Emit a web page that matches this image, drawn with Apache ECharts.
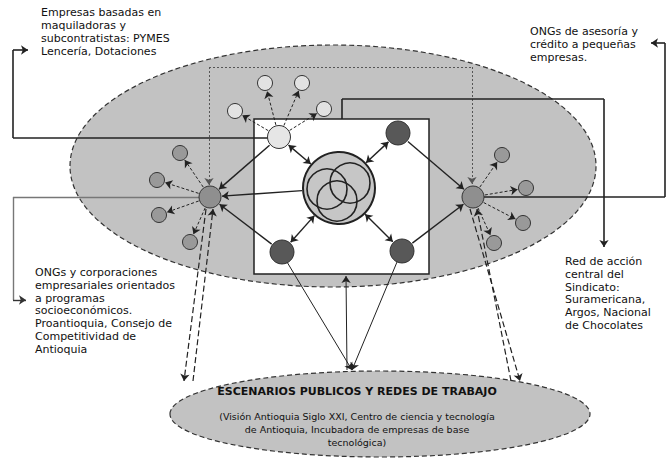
<!DOCTYPE html>
<html>
<head>
<meta charset="utf-8">
<title>Escenarios publicos y redes de trabajo</title>
<script src="https://cdn.jsdelivr.net/npm/echarts@6/dist/echarts.min.js"></script>
<style>
  html, body { margin: 0; background: #fff; }
  #main { width: 667px; height: 459px; }
</style>
</head>
<body>
<div id="main"></div>
<script type="text/javascript">
    // nodes of the diagram (x, y in picture units)
    var nodeNames = ['C', 'L', 'R', 'T', 'D1', 'D2', 'D3',
        't1', 't2', 't3', 't4', 'l1', 'l2', 'l3', 'l4', 'r1', 'r2', 'r3', 'r4'];
    var nodeX = [339, 210, 473, 279, 398, 282, 402, 265, 302, 235, 324, 180, 157, 159, 190, 502, 526, 523, 494];
    var nodeY = [188, 197, 197, 137, 133, 252, 251, 83, 83, 111, 109, 153, 180, 215, 242, 155, 188, 223, 243];
    var nodeKind = ['core', 'hub', 'hub', 'light', 'dark', 'dark', 'dark',
        'lightSmall', 'lightSmall', 'lightSmall', 'lightSmall',
        'mid', 'mid', 'mid', 'mid', 'mid', 'mid', 'mid', 'mid'];

    // links between nodes
    var linksOneWay = [['T', 'L'], ['D1', 'R'], ['C', 'L'], ['D2', 'L'], ['D3', 'R']];
    var linksTwoWay = [['T', 'C'], ['D1', 'C'], ['D2', 'C'], ['D3', 'C']];
    var linksDashed = [['T', 't1'], ['T', 't2'], ['T', 't3'], ['T', 't4'],
        ['L', 'l1'], ['L', 'l2'], ['L', 'l3'], ['L', 'l4'],
        ['R', 'r1'], ['R', 'r2'], ['R', 'r3'], ['R', 'r4']];

    // paths that leave the nodes (arrow at the last point)
    var pathsThin = [[[287, 262], [352, 370]], [[397, 262], [352, 370]], [[347, 370], [346, 276]]];
    var pathsLongDash = [[[206, 209], [184, 381]], [[193, 381], [213, 209]],
        [[470, 209], [520, 381]], [[511, 381], [477, 209]]];
    var pathsOut = [
        [[268, 138], [13, 138], [13, 50], [28, 50]],
        [[484, 197], [665, 197], [665, 43], [651, 43]],
        [[342, 119], [342, 99], [604, 99], [604, 247]]
    ];
    var pathsOutGrey = [[[199, 197], [13, 197], [13, 300], [26, 300]]];
    var pathsDotted = [[[209, 185], [209, 67], [472, 67], [472, 184]]];

    // shapes
    var ellipses = [[333, 166, 263, 121], [380, 414, 210, 43]];
    var boxes = [[254, 119, 429, 274]];
    var venn = [[11, -5, 20], [-12, 1, 20], [-2, 13, 20]];

    // texts
    var textTopLeft = ['Empresas basadas en', 'maquiladoras y', 'subcontratistas: PYMES', 'Lencería, Dotaciones'];
    var textTopRight = ['ONGs de asesoría y', 'crédito a pequeñas', 'empresas.'];
    var textLeft = ['ONGs y corporaciones', 'empresariales orientados', 'a programas', 'socioeconómicos.',
        'Proantioquia, Consejo de', 'Competitividad de', 'Antioquia'];
    var textRight = ['Red de acción', 'central del', 'Sindicato:', 'Suramericana,', 'Argos, Nacional', 'de Chocolates'];
    var textTitle = 'ESCENARIOS PUBLICOS Y REDES DE TRABAJO';
    var textBottom = ['(Visión Antioquia Siglo XXI, Centro de ciencia y tecnología',
        'de Antioquia, Incubadora de empresas de base', 'tecnológica)'];

    var kindColor = { core: '#c6c6c6', hub: '#8f8f8f', light: '#e6e6e6', lightSmall: '#e2e2e2', dark: '#585858', mid: '#999999' };
    var kindSize = { core: 36, hub: 11, light: 11.5, lightSmall: 7.5, dark: 12, mid: 7.5 };

    function node(name) {
        var i = nodeNames.indexOf(name);
        return { x: nodeX[i], y: nodeY[i], r: kindSize[nodeKind[i]] };
    }

    function trim(pair) {
        var a = node(pair[0]), b = node(pair[1]);
        var dx = b.x - a.x, dy = b.y - a.y;
        var d = Math.sqrt(dx * dx + dy * dy);
        var ux = dx / d, uy = dy / d;
        return { coords: [[a.x + ux * (a.r + 1), a.y + uy * (a.r + 1)], [b.x - ux * (b.r + 1), b.y - uy * (b.r + 1)]] };
    }

    // split polylines into plain segments and arrow-tipped segments
    function split(paths, bothEnds) {
        var plain = [], tips = [];
        paths.forEach(function (p) {
            for (var k = 0; k < p.length - 1; k++) {
                var seg = [p[k], p[k + 1]];
                if (k === p.length - 2) tips.push({ coords: seg });
                else if (k === 0 && bothEnds) tips.push({ coords: [p[1], p[0]] });
                else plain.push({ coords: seg });
            }
        });
        return { plain: plain, tips: tips };
    }

    var nodeData = [];
    for (var i = 1; i < nodeNames.length; i++) {
        var n = node(nodeNames[i]);
        nodeData.push({ value: [n.x, n.y, n.r], itemStyle: { color: kindColor[nodeKind[i]] } });
    }

    var FONT = '"DejaVu Sans"';
    var textData = [
        [41, 6, textTopLeft.join('\n'), '11px ' + FONT, 'left', 13],
        [530, 25, textTopRight.join('\n'), '11px ' + FONT, 'left', 13],
        [35, 266, textLeft.join('\n'), '11px ' + FONT, 'left', 12.8],
        [565, 255, textRight.join('\n'), '11px ' + FONT, 'left', 12.8],
        [357, 385, textTitle, 'bold 11px ' + FONT, 'center', 13],
        [357, 410, textBottom.join('\n'), '9.5px ' + FONT, 'center', 13]
    ];

    function lineSeries(data, color, width, type, symbols, z) {
        return {
            type: 'lines',
            coordinateSystem: 'cartesian2d',
            silent: true,
            z: z,
            symbol: symbols,
            symbolSize: 7,
            lineStyle: { color: color, width: width, type: type, opacity: 1, curveness: 0 },
            data: data
        };
    }

    var out = split(pathsOut, false);
    var outGrey = split(pathsOutGrey, false);
    var dotted = split(pathsDotted, true);

    var option = {
        animation: false,
        grid: { left: 0, right: 0, top: 0, bottom: 0 },
        xAxis: { type: 'value', min: 0, max: 667, show: false },
        yAxis: { type: 'value', min: 0, max: 459, inverse: true, show: false },
        series: [
            {
                type: 'custom',
                z: 1,
                silent: true,
                data: ellipses,
                renderItem: function (params, api) {
                    var c = api.coord([api.value(0), api.value(1)]);
                    var s = api.size([api.value(2), api.value(3)]);
                    return {
                        type: 'ellipse',
                        shape: { cx: c[0], cy: c[1], rx: s[0], ry: s[1] },
                        style: { fill: '#c2c2c2', stroke: '#333', lineWidth: 1.2, lineDash: [5, 3] }
                    };
                }
            },
            {
                type: 'custom',
                z: 2,
                silent: true,
                data: boxes,
                renderItem: function (params, api) {
                    var a = api.coord([api.value(0), api.value(1)]);
                    var b = api.coord([api.value(2), api.value(3)]);
                    return {
                        type: 'rect',
                        shape: { x: a[0], y: a[1], width: b[0] - a[0], height: b[1] - a[1] },
                        style: { fill: '#fff', stroke: '#222', lineWidth: 1.5 }
                    };
                }
            },
            lineSeries(dotted.plain, '#555', 1, [2, 2], ['none', 'none'], 3),
            lineSeries(dotted.tips, '#555', 1, [2, 2], ['none', 'arrow'], 3),
            lineSeries(out.plain, '#222', 1.6, 'solid', ['none', 'none'], 3),
            lineSeries(out.tips, '#222', 1.6, 'solid', ['none', 'arrow'], 3),
            lineSeries(outGrey.plain, '#777', 1.4, 'solid', ['none', 'none'], 3),
            lineSeries(outGrey.tips, '#333', 1.4, 'solid', ['none', 'arrow'], 3),
            lineSeries(pathsThin.map(function (p) { return { coords: p }; }), '#222', 1, 'solid', ['none', 'arrow'], 3),
            lineSeries(pathsLongDash.map(function (p) { return { coords: p }; }), '#222', 1.2, [6, 3], ['none', 'arrow'], 3),
            lineSeries(linksOneWay.map(trim), '#222', 1.4, 'solid', ['none', 'arrow'], 4),
            lineSeries(linksTwoWay.map(trim), '#222', 1.4, 'solid', ['arrow', 'arrow'], 4),
            lineSeries(linksDashed.map(trim), '#222', 1, [3, 2], ['none', 'arrow'], 4),
            {
                type: 'scatter',
                z: 5,
                silent: true,
                symbol: 'circle',
                symbolSize: function (v) { return v[2] * 2; },
                itemStyle: { borderColor: '#333', borderWidth: 1, opacity: 1 },
                data: nodeData
            },
            {
                type: 'custom',
                z: 6,
                silent: true,
                data: [[nodeX[0], nodeY[0], kindSize.core]],
                renderItem: function (params, api) {
                    var c = api.coord([api.value(0), api.value(1)]);
                    var r = api.size([api.value(2), 0])[0];
                    var kids = [{
                        type: 'circle',
                        shape: { cx: c[0], cy: c[1], r: r },
                        style: { fill: kindColor.core, stroke: '#222', lineWidth: 2 }
                    }];
                    venn.forEach(function (v) {
                        kids.push({
                            type: 'circle',
                            shape: { cx: c[0] + v[0], cy: c[1] + v[1], r: v[2] },
                            style: { fill: 'none', stroke: '#222', lineWidth: 1.6 }
                        });
                    });
                    return { type: 'group', children: kids };
                }
            },
            {
                type: 'custom',
                z: 7,
                silent: true,
                data: textData.map(function (d, k) { return [d[0], d[1], k]; }),
                renderItem: function (params, api) {
                    var d = textData[params.dataIndex];
                    var p = api.coord([d[0], d[1]]);
                    return {
                        type: 'text',
                        x: p[0],
                        y: p[1],
                        style: {
                            text: d[2],
                            font: d[3],
                            fill: '#111',
                            align: d[4],
                            verticalAlign: 'top',
                            lineHeight: d[5]
                        }
                    };
                }
            }
        ]
    };

    var myChart = echarts.init(document.getElementById('main'), null, { renderer: 'svg' });
    myChart.setOption(option);
</script>
</body>
</html>
